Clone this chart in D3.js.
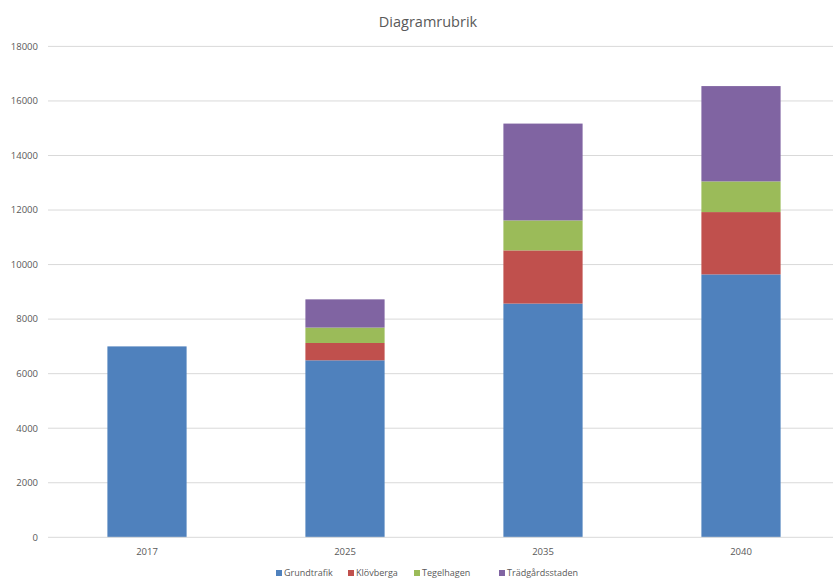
<!DOCTYPE html>
<html><head><meta charset="utf-8">
<script src="https://cdn.jsdelivr.net/npm/d3@7"></script>
<style>body{margin:0;background:#fff}svg{display:block}text{font-family:"Open Sans",Calibri,sans-serif}</style>
</head><body><svg id="c" width="833" height="581"></svg>
<script>
const categories = ["2017","2025","2035","2040"];
const seriesNames = ["Grundtrafik","Klövberga","Tegelhagen","Trädgårdsstaden"];
const grundtrafik = [7000,6490,8570,9640];
const klovberga = [0,635,1950,2285];
const tegelhagen = [0,565,1100,1125];
const tradgardsstaden = [0,1035,3550,3495];
const yTicks = [0,2000,4000,6000,8000,10000,12000,14000,16000,18000];
const colors = ["#4F81BD","#C0504D","#9BBB59","#8064A2"];

const svg = d3.select("#c");
const plotLeft = 48, plotRight = 840, plotTop = 46.4, plotBottom = 537.3;
const x = d3.scaleBand().domain(categories).range([plotLeft,plotRight]).paddingInner(0.6).paddingOuter(0.3);
const y = d3.scaleLinear().domain([0,18000]).range([plotBottom,plotTop]);

const rows = categories.map((c,i)=>({cat:c,Grundtrafik:grundtrafik[i],"Klövberga":klovberga[i],Tegelhagen:tegelhagen[i],"Trädgårdsstaden":tradgardsstaden[i]}));
const stack = d3.stack().keys(seriesNames)(rows);

svg.append("g").selectAll("line").data(yTicks.filter(d=>d>0)).join("line")
  .attr("x1",plotLeft).attr("x2",833).attr("y1",d=>y(d)).attr("y2",d=>y(d))
  .attr("stroke","#D9D9D9").attr("stroke-width",1);

svg.append("g").selectAll("text").data(yTicks).join("text")
  .attr("x",38).attr("y",d=>y(d)).attr("dy","0.35em").attr("text-anchor","end")
  .attr("font-size",9.5).attr("fill","#595959").text(d=>d);

svg.append("g").selectAll("g").data(stack).join("g").attr("fill",(d,i)=>colors[i])
  .selectAll("rect").data(d=>d.filter(p=>p[1]>p[0])).join("rect")
  .attr("x",d=>x(d.data.cat)).attr("width",x.bandwidth())
  .attr("y",d=>y(d[1])).attr("height",d=>y(d[0])-y(d[1]));

svg.append("line").attr("x1",plotLeft).attr("x2",833).attr("y1",plotBottom).attr("y2",plotBottom)
  .attr("stroke","#D9D9D9").attr("stroke-width",1);

svg.append("g").selectAll("text").data(categories).join("text")
  .attr("x",d=>x(d)+x.bandwidth()/2).attr("y",552).attr("dy","0.35em").attr("text-anchor","middle")
  .attr("font-size",9.5).attr("fill","#595959").text(d=>d);

svg.append("text").attr("x",428).attr("y",22).attr("dy","0.35em").attr("text-anchor","middle")
  .attr("font-size",14.5).attr("fill","#595959").text("Diagramrubrik");

const legendX = [276,348,414,499];
const lg = svg.append("g").selectAll("g").data(seriesNames).join("g")
  .attr("transform",(d,i)=>`translate(${legendX[i]},573)`);
lg.append("rect").attr("x",0).attr("y",-3).attr("width",6).attr("height",6).attr("fill",(d,i)=>colors[i]);
lg.append("text").attr("x",8).attr("y",0).attr("dy","0.35em").attr("font-size",9).attr("fill","#595959").text(d=>d);
</script></body></html>
